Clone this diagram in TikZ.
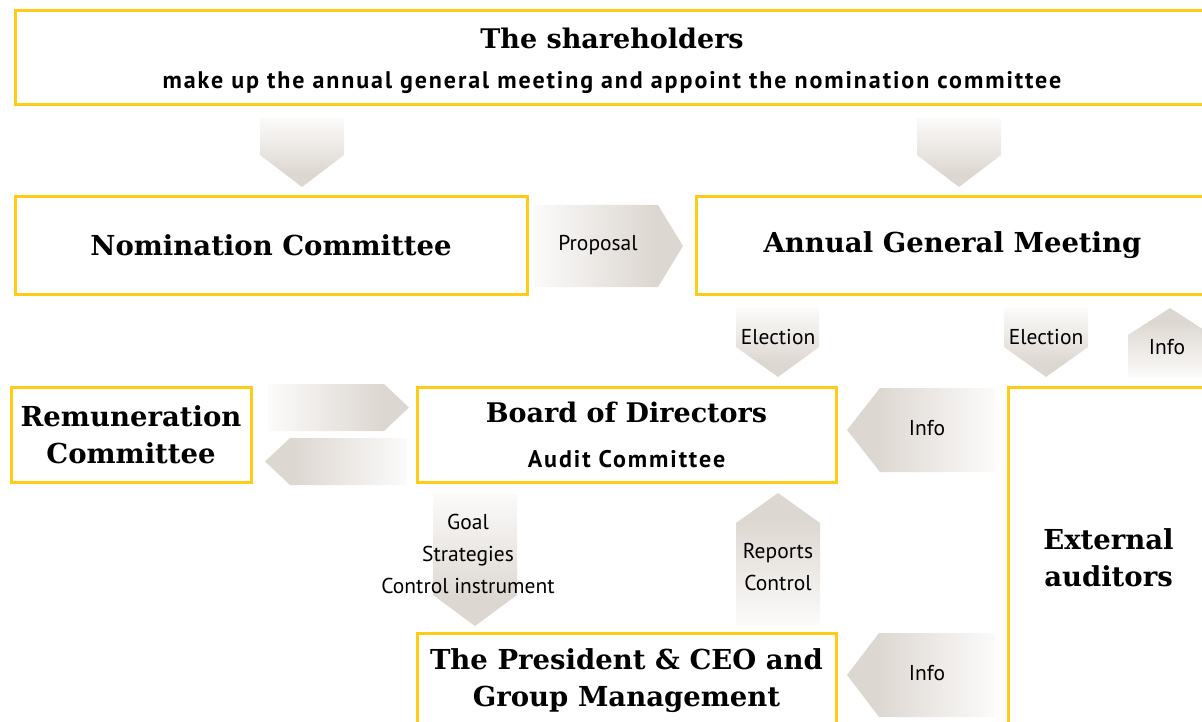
\documentclass[tikz,border=0pt]{standalone}
\usepackage{fontspec}
\setmainfont{PT Sans}
\newfontfamily\headfont{DejaVu Serif}
\newfontfamily\subfont{PT Sans}[LetterSpace=8]
\usetikzlibrary{positioning}
\definecolor{boxyellow}{RGB}{254,204,22}
\definecolor{arrowgrey}{RGB}{221,215,209}
\pgfdeclarehorizontalshading{greyfade}{100bp}{color(0bp)=(white); color(25bp)=(arrowgrey!10); color(65bp)=(arrowgrey); color(100bp)=(arrowgrey)}

\begin{document}
\begin{tikzpicture}[x=1pt, y=-1pt,
    box/.style={draw=boxyellow, line width=3pt, fill=white, inner sep=0, align=center,
      font=\headfont\bfseries\fontsize{27.5}{37}\selectfont},
    title/.style={inner sep=0, font=\headfont\bfseries\fontsize{27}{37}\selectfont},
    subtitle/.style={inner sep=0, font=\subfont\bfseries\fontsize{24}{26}\selectfont},
    arrowtext/.style={inner sep=0, align=center, font=\fontsize{21.5}{32}\selectfont},
    fade/.style={shading=greyfade},
    east/.style={fade, shading angle=0},
    west/.style={fade, shading angle=180},
    south/.style={fade, shading angle=-90},
    north/.style={fade, shading angle=90}
  ]
  \useasboundingbox (0,0) rectangle (1202,722);
  \clip (0,0) rectangle (1202,722);

  % boxes
  \node[box, minimum width=1194pt, minimum height=94pt] (share) at (612,58) {};
  \node[title] (sharetitle) at (612,38) {The shareholders};
  \node[subtitle] (sharesub) at (612,83) {make up the annual general meeting and appoint the nomination committee};
  \node[box, minimum width=512pt, minimum height=97pt] (nom) at (271,245.5) {Nomination Committee};
  \node[box, minimum width=513pt, minimum height=97pt] (agm) at (952.5,245.5) {Annual General Meeting};
  \node[box, minimum width=240pt, minimum height=95pt] (remun) at (131,434.5) {Remuneration\\Committee};
  \node[box, minimum width=419pt, minimum height=95pt] (board) at (626.5,434.5) {};
  \node[title] (boardtitle) at (626.5,412) {Board of Directors};
  \node[subtitle] (boardsub) at (626.5,459) {Audit Committee};
  \node[box, minimum width=201pt, minimum height=342pt] (ext) at (1108.5,558) {External\\auditors};
  \node[box, minimum width=419pt, minimum height=96pt] (pres) at (626.5,681) {The President \& CEO and\\Group Management};

  % block arrows
  \shade[south] (260,118) -- (344,118) -- (344,155) -- (302,187) -- (260,155) -- cycle;
  \shade[south] (917,118) -- (1001,118) -- (1001,155) -- (959,187) -- (917,155) -- cycle;
  \shade[east] (533,205) -- (658,205) -- (683,246) -- (658,287) -- (533,287) -- cycle;
  \shade[south] (736,308) -- (819,308) -- (819,347) -- (778,377) -- (736,347) -- cycle;
  \shade[south] (1004,308) -- (1088,308) -- (1088,347) -- (1046,377) -- (1004,347) -- cycle;
  \shade[north] (1170,308) -- (1212,335) -- (1212,377) -- (1128,377) -- (1128,335) -- cycle;
  \shade[west] (847,430) -- (880,388) -- (995,388) -- (995,472) -- (880,472) -- cycle;
  \shade[east] (268,384) -- (384,384) -- (409,407.5) -- (384,431) -- (268,431) -- cycle;
  \shade[west] (265,461.5) -- (290,438) -- (407,438) -- (407,485) -- (290,485) -- cycle;
  \shade[south] (433,493) -- (517,493) -- (517,595) -- (475,626) -- (433,595) -- cycle;
  \shade[north] (778,493) -- (820,523) -- (820,625) -- (736,625) -- (736,523) -- cycle;
  \shade[west] (847,675) -- (879,633) -- (995,633) -- (995,717) -- (879,717) -- cycle;

  % arrow labels
  \node[arrowtext] (proposal) at (598,245) {Proposal};
  \node[arrowtext] (elect1) at (778,337) {Election};
  \node[arrowtext] (elect2) at (1046,337) {Election};
  \node[arrowtext] (infotop) at (1167,347) {Info};
  \node[arrowtext] (infoboard) at (927,428) {Info};
  \node[arrowtext] (goals) at (468,554) {Goal\\Strategies\\Control instrument};
  \node[arrowtext] (reports) at (778,567) {Reports\\Control};
  \node[arrowtext] (infopres) at (927,673) {Info};
\end{tikzpicture}
\end{document}
